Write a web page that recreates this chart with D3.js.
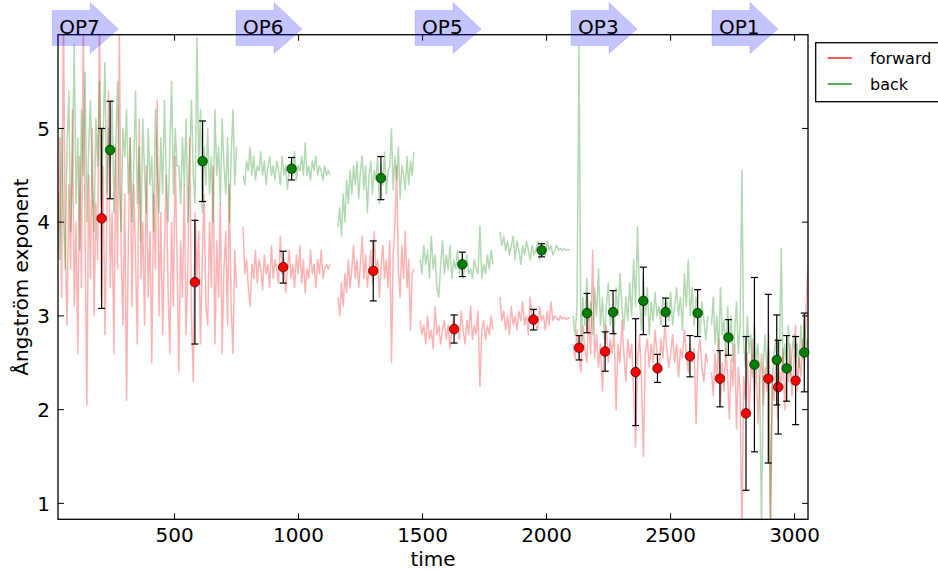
<!DOCTYPE html>
<html>
<head>
<meta charset="utf-8">
<script src="https://cdn.jsdelivr.net/npm/d3@7"></script>
<style>
  html, body { margin: 0; padding: 0; background: #fff; }
  svg { display: block; font-family: "DejaVu Sans", sans-serif; }
</style>
</head>
<body>
<svg id="chart" width="938" height="574"></svg>
<script>
// Measurement campaigns (label and start time of each arrow)
const phaseLabels = ["OP7", "OP6", "OP5", "OP3", "OP1"];
const phaseTimes = [35, 776, 1498, 2127, 2695];

// Continuous measurement blocks: start / end time of each block
const blockStarts = [30, 776, 1159, 1490, 1812, 2107, 2665];
const blockEnds   = [750, 1127, 1465, 1784, 2094, 2650, 3054];

// Forward exponent, one array per block
const forwardBlocks = [
  [3.6, 4.9, 3.2, 6.3, 3.8, 2.9, 4.4, 3.5, 5.2, 3.1,
   4.0, 2.6, 4.7, 3.3, 6.2, 3.9, 2.05, 4.5, 3.4, 5.0,
   3.0, 4.2, 3.6, 6.4, 3.2, 4.6, 2.8, 3.9, 5.4, 3.3,
   4.1, 2.6, 4.8, 3.5, 6.1, 3.7, 2.9, 4.3, 2.1, 3.8,
   4.9, 3.1, 4.4, 3.6, 2.7, 5.1, 3.4, 4.0, 2.9, 4.6,
   3.2, 3.9, 2.5, 4.3, 3.5, 5.3, 3.0, 4.1, 2.8, 3.7,
   4.5, 3.3, 2.6, 4.0, 3.1, 4.7, 3.6, 2.4, 3.8, 3.2,
   4.4, 2.8, 3.5, 4.9, 3.0, 2.3, 4.1, 3.4, 3.9, 2.7,
   3.6, 4.3, 3.1, 2.9, 4.0, 3.3, 4.6, 2.7, 3.8, 3.2,
   4.2, 2.6, 3.5, 3.9, 2.9, 4.4, 3.1, 2.6, 3.7, 3.3],
  [3.95, 3.45, 3.6, 3.3, 3.1, 3.55, 3.4, 3.7, 3.35, 3.6,
   3.5, 3.28, 3.65, 3.45, 3.55, 3.3, 3.75, 3.4, 3.6, 3.5,
   3.35, 3.85, 3.45, 3.6, 3.25, 3.5, 3.7, 3.4, 3.55, 3.3,
   3.65, 3.45, 3.75, 3.35, 3.6, 3.25, 3.5, 3.4, 3.7, 3.45,
   3.55, 3.3, 3.6, 3.45, 3.7, 3.4, 3.5, 3.55, 3.5, 3.55],
  [3.2, 3.0, 3.35, 3.1, 3.45, 3.25, 3.6, 3.3, 3.5, 3.75,
   3.4, 3.6, 3.3, 3.55, 3.85, 3.4, 3.65, 3.3, 3.5, 3.7,
   3.35, 3.9, 3.45, 3.6, 3.2, 3.55, 3.75, 3.4, 3.6, 3.3,
   3.8, 2.5, 3.65, 3.95, 4.6, 3.5, 3.2, 3.75, 3.4, 3.9,
   3.3, 3.6, 2.85, 3.45, 3.5],
  [2.95, 2.8, 2.9, 2.7, 3.0, 2.75, 2.85, 2.65, 3.1, 2.8,
   2.9, 2.7, 2.85, 2.95, 2.75, 2.9, 2.65, 2.85, 3.0, 2.8,
   2.9, 2.75, 3.05, 2.85, 2.7, 2.95, 2.8, 3.1, 2.75, 2.9,
   2.8, 3.05, 2.25, 2.85, 2.95, 2.75, 2.9, 2.8, 3.0, 2.85],
  [3.2, 2.95, 3.05, 2.85, 3.0, 2.8, 3.1, 2.9, 3.0, 2.85,
   3.05, 2.95, 3.15, 2.9, 3.0, 2.8, 3.2, 2.95, 3.05, 2.9,
   2.85, 3.1, 2.95, 3.0, 2.85, 3.05, 2.9, 3.15, 2.95, 3.0,
   2.98, 2.95, 3.0, 2.97, 2.98, 2.96, 2.98, 2.97],
  [2.7, 2.55, 2.85, 2.6, 2.4, 2.9, 2.65, 2.5, 3.0, 2.6,
   3.7, 2.55, 2.8, 2.45, 2.7, 2.2, 2.65, 2.9, 2.5, 2.75,
   2.6, 2.85, 2.0, 2.7, 2.5, 2.95, 2.6, 2.3, 2.75, 2.55,
   2.7, 2.2, 1.6, 2.5, 2.8, 2.35, 1.5, 2.6, 2.75, 2.45,
   2.7, 2.5, 2.85, 2.6, 2.4, 2.75, 2.55, 2.9, 2.65, 2.45,
   2.6, 2.8, 2.5, 2.7, 2.35, 2.65, 2.55, 2.85, 2.6, 2.4,
   2.7, 2.5, 2.65, 1.85, 2.6, 2.75, 2.45, 2.3, 2.6, 2.5],
  [2.4, 2.15, 2.6, 2.3, 2.75, 2.05, 2.5, 2.2, 2.65, 2.35,
   1.9, 2.55, 2.25, 2.7, 1.8, 2.45, 2.2, 0.6, 2.35, 2.1,
   2.6, 1.95, 2.4, 2.75, 2.15, 2.5, 1.85, 2.3, 2.6, 2.05,
   2.45, 2.2, 2.8, 0.7, 2.35, 2.1, 2.55, 1.9, 2.4, 2.25,
   2.65, 2.0, 2.5, 2.3, 2.7, 2.15, 2.45, 2.9, 2.2, 2.55,
   2.35, 2.75, 2.5, 3.1, 3.55]
];

// Backward exponent, one array per block
const backBlocks = [
  [4.3, 3.6, 5.0, 4.1, 3.5, 4.8, 5.4, 3.9, 4.6, 5.9,
   4.2, 4.9, 3.7, 5.2, 4.5, 5.6, 4.0, 4.8, 5.3, 4.4,
   3.9, 5.1, 4.6, 5.5, 4.2, 4.9, 5.7, 4.3, 5.0, 4.6,
   5.3, 4.1, 4.8, 5.5, 4.4, 3.9, 5.0, 4.7, 5.2, 4.3,
   4.9, 4.0, 4.6, 5.4, 4.2, 4.8, 3.8, 5.1, 4.5, 4.1,
   5.0, 4.4, 4.7, 3.9, 5.2, 4.6, 4.1, 4.9, 4.3, 5.3,
   4.5, 4.0, 4.8, 5.5, 4.3, 5.0, 4.6, 4.6, 4.2, 4.9,
   4.4, 5.1, 4.0, 4.7, 5.3, 4.5, 4.2, 5.97, 4.6, 5.2,
   4.1, 4.8, 4.4, 5.0, 4.3, 4.7, 4.0, 5.2, 4.5, 4.8,
   4.2, 5.1, 4.6, 4.3, 4.9, 4.0, 4.7, 5.2, 4.4, 4.8],
  [4.5, 4.4, 4.65, 4.55, 4.8, 4.5, 4.7, 4.45, 4.6, 4.55,
   4.75, 4.5, 4.65, 4.4, 4.6, 4.7, 4.5, 4.6, 4.45, 4.65,
   4.55, 4.4, 4.7, 4.5, 4.6, 4.35, 4.55, 4.65, 4.5, 4.75,
   4.45, 4.6, 4.55, 4.7, 4.5, 4.85, 4.5, 4.6, 4.45, 4.65,
   4.55, 4.7, 4.5, 4.6, 4.55, 4.45, 4.6, 4.5, 4.55, 4.5],
  [3.95, 4.15, 3.85, 4.3, 4.0, 4.45, 4.2, 4.55, 4.3, 4.6,
   4.4, 4.65, 4.25, 4.55, 4.7, 4.35, 4.6, 4.1, 4.5, 4.65,
   4.3, 4.55, 4.45, 4.7, 4.2, 4.6, 4.4, 4.75, 4.3, 4.55,
   4.6, 5.0, 4.35, 4.7, 4.45, 4.8, 4.25, 4.6, 4.5, 4.35,
   4.7, 4.4, 4.65, 4.5, 4.75],
  [3.6, 3.45, 3.75, 3.55, 3.7, 3.4, 3.85, 3.5, 3.65, 3.3,
   3.2, 3.55, 3.8, 3.45, 3.65, 3.5, 3.75, 3.4, 3.6, 3.5,
   3.7, 3.45, 3.6, 3.4, 3.55, 3.65, 3.45, 3.5, 3.4, 3.6,
   3.5, 3.45, 3.96, 3.4, 3.55, 3.45, 3.65, 3.5, 3.7, 3.55],
  [3.9, 3.75, 3.85, 3.7, 3.8, 3.65, 3.75, 3.85, 3.6, 3.8,
   3.7, 3.55, 3.75, 3.65, 3.8, 3.7, 3.6, 3.75, 3.65, 3.7,
   3.8, 3.6, 3.75, 3.7, 3.65, 3.8, 3.7, 3.75, 3.65, 3.7,
   3.75, 3.7, 3.72, 3.7, 3.72, 3.7, 3.71, 3.7],
  [3.0, 2.8, 3.1, 5.88, 2.7, 3.2, 2.9, 3.4, 2.95, 3.15,
   2.8, 3.3, 3.0, 3.5, 2.9, 3.2, 2.75, 3.1, 3.35, 2.9,
   3.05, 2.8, 3.3, 3.0, 3.45, 3.1, 2.85, 3.2, 2.95, 3.35,
   3.0, 3.6, 3.1, 3.95, 3.2, 2.85, 3.4, 3.0, 3.3, 2.8,
   3.15, 2.95, 3.25, 3.0, 3.1, 2.9, 3.2, 3.05, 3.15, 2.95,
   3.25, 2.9, 3.1, 3.3, 3.0, 3.2, 2.85, 3.45, 3.1, 3.6,
   3.0, 3.3, 2.9, 3.2, 3.05, 2.8, 3.15, 2.95, 2.75, 3.0],
  [2.9, 3.2, 2.7, 3.0, 2.6, 3.3, 2.8, 2.95, 2.55, 3.1,
   2.75, 3.0, 2.5, 2.85, 3.15, 2.6, 2.9, 4.55, 2.7, 2.45,
   3.0, 2.6, 2.8, 2.35, 2.95, 2.5, 2.7, 2.2, 0.7, 2.5,
   2.8, 2.4, 2.65, 0.75, 2.3, 2.6, 2.75, 2.2, 2.55, 3.72,
   2.4, 2.7, 2.45, 2.9, 2.35, 2.6, 2.8, 2.5, 2.7, 2.45,
   2.9, 2.55, 3.0, 2.65, 2.75]
];

// Block means with error bars
const forwardTimes  = [206, 582, 938, 1301, 1627, 1947, 2131, 2236, 2359, 2447, 2578, 2699, 2804, 2894, 2934, 3004];
const forwardMeans  = [4.04, 3.36, 3.52, 3.48, 2.86, 2.96, 2.66, 2.62, 2.40, 2.44, 2.57, 2.33, 1.96, 2.33, 2.24, 2.31];
const forwardErrors = [0.96, 0.66, 0.17, 0.32, 0.15, 0.11, 0.13, 0.21, 0.57, 0.15, 0.22, 0.30, 0.82, 0.90, 0.50, 0.47];
const backTimes  = [240, 613, 972, 1332, 1660, 1980, 2163, 2268, 2390, 2480, 2609, 2733, 2838, 2928, 2968, 3039];
const backMeans  = [4.77, 4.65, 4.57, 4.47, 3.55, 3.70, 3.03, 3.04, 3.16, 3.04, 3.03, 2.77, 2.48, 2.53, 2.44, 2.61];
const backErrors = [0.52, 0.43, 0.12, 0.23, 0.13, 0.07, 0.21, 0.23, 0.36, 0.15, 0.25, 0.19, 0.93, 0.48, 0.35, 0.42];

// Axis ticks
const xTicks = [500, 1000, 1500, 2000, 2500, 3000];
const yTicks = [1, 2, 3, 4, 5];

const plotL = 58, plotR = 808, plotT = 34.7, plotB = 519.3;
const x = d3.scaleLinear().domain([30, 3054]).range([plotL, plotR]);
const y = d3.scaleLinear().domain([0.83, 6]).range([plotB, plotT]);

const svg = d3.select("#chart");

svg.append("defs").append("clipPath").attr("id", "plotClip")
  .append("rect").attr("x", plotL).attr("y", plotT)
  .attr("width", plotR - plotL).attr("height", plotB - plotT);

// Turn a block of values into [time, value] points
function blockPoints(values, b) {
  const t0 = blockStarts[b], t1 = blockEnds[b];
  const dt = (t1 - t0) / (values.length - 1);
  return values.map((v, i) => [t0 + i * dt, v]);
}

const line = d3.line().x(d => x(d[0])).y(d => y(d[1]));
const traces = svg.append("g").attr("clip-path", "url(#plotClip)");

forwardBlocks.forEach((vals, b) => {
  traces.append("path").attr("d", line(blockPoints(vals, b)))
    .attr("fill", "none").attr("stroke", "#ff0000").attr("stroke-opacity", 0.3)
    .attr("stroke-width", 1.5).attr("stroke-linejoin", "round");
});
backBlocks.forEach((vals, b) => {
  traces.append("path").attr("d", line(blockPoints(vals, b)))
    .attr("fill", "none").attr("stroke", "#008000").attr("stroke-opacity", 0.3)
    .attr("stroke-width", 1.5).attr("stroke-linejoin", "round");
});

// Frame
svg.append("rect").attr("x", plotL).attr("y", plotT)
  .attr("width", plotR - plotL).attr("height", plotB - plotT)
  .attr("fill", "none").attr("stroke", "#000").attr("stroke-width", 1.3);

// Ticks pointing inward on all four sides
const tickLen = 6;
const tickG = svg.append("g").attr("stroke", "#000").attr("stroke-width", 1);
xTicks.forEach(t => {
  tickG.append("line").attr("x1", x(t)).attr("x2", x(t)).attr("y1", plotB).attr("y2", plotB - tickLen);
  tickG.append("line").attr("x1", x(t)).attr("x2", x(t)).attr("y1", plotT).attr("y2", plotT + tickLen);
});
yTicks.forEach(v => {
  tickG.append("line").attr("x1", plotL).attr("x2", plotL + tickLen).attr("y1", y(v)).attr("y2", y(v));
  tickG.append("line").attr("x1", plotR).attr("x2", plotR - tickLen).attr("y1", y(v)).attr("y2", y(v));
});

// Tick labels
svg.append("g").selectAll("text").data(xTicks).join("text")
  .attr("x", d => x(d)).attr("y", 542).attr("text-anchor", "middle")
  .attr("font-size", 20).attr("fill", "#000").text(d => d);
svg.append("g").selectAll("text").data(yTicks).join("text")
  .attr("x", 50).attr("y", d => y(d)).attr("dy", "0.36em").attr("text-anchor", "end")
  .attr("font-size", 20).attr("fill", "#000").text(d => d);

// Axis titles
svg.append("text").attr("x", (plotL + plotR) / 2).attr("y", 566)
  .attr("text-anchor", "middle").attr("font-size", 20).text("time");
svg.append("text").attr("transform", `translate(28,${(plotT + plotB) / 2}) rotate(-90)`)
  .attr("text-anchor", "middle").attr("font-size", 20).text("Ångström exponent");

// Error bars and mean markers
function drawMeans(times, means, errs, fill) {
  const g = svg.append("g");
  times.forEach((t, i) => {
    const cx = x(t), lo = y(means[i] - errs[i]), hi = y(means[i] + errs[i]);
    g.append("line").attr("x1", cx).attr("x2", cx).attr("y1", lo).attr("y2", hi)
      .attr("stroke", "#000").attr("stroke-width", 1.2);
    [lo, hi].forEach(yy => g.append("line").attr("x1", cx - 3.5).attr("x2", cx + 3.5)
      .attr("y1", yy).attr("y2", yy).attr("stroke", "#000").attr("stroke-width", 1.2));
  });
  g.selectAll("circle").data(times).join("circle")
    .attr("cx", d => x(d)).attr("cy", (d, i) => y(means[i])).attr("r", 4.8)
    .attr("fill", fill).attr("stroke", "#000").attr("stroke-width", 0.6);
}
drawMeans(forwardTimes, forwardMeans, forwardErrors, "#ff0000");
drawMeans(backTimes, backMeans, backErrors, "#008000");

// Campaign arrows along the top
const arrowG = svg.append("g");
phaseTimes.forEach((t, i) => {
  const x0 = x(t) - 7, cy = 28;
  const w = 66, head = 28, bh = 17.5, hh = 25.5;
  const pts = [
    [x0, cy - bh], [x0 + w - head, cy - bh], [x0 + w - head, cy - hh], [x0 + w, cy + 1],
    [x0 + w - head, cy + hh], [x0 + w - head, cy + bh], [x0, cy + bh]
  ];
  arrowG.append("path").attr("d", "M" + pts.map(p => p.join(",")).join("L") + "Z")
    .attr("fill", "rgba(0,0,255,0.23)").attr("stroke", "rgba(0,0,255,0.12)").attr("stroke-width", 1);
  arrowG.append("text").attr("x", x(t)).attr("y", 34).attr("font-size", 20)
    .attr("fill", "#000").text(phaseLabels[i]);
});

// Legend
const lg = svg.append("g");
lg.append("rect").attr("x", 815.7).attr("y", 42.7).attr("width", 140).attr("height", 59)
  .attr("fill", "#fff").attr("stroke", "#000").attr("stroke-width", 1.3);
[["forward", "#ff0000", 58], ["back", "#008000", 84]].forEach(([name, col, ly]) => {
  lg.append("line").attr("x1", 827.7).attr("x2", 851.7).attr("y1", ly).attr("y2", ly)
    .attr("stroke", col).attr("stroke-width", 1.3);
  lg.append("text").attr("x", 870).attr("y", ly).attr("dy", "0.36em")
    .attr("font-size", 16).attr("fill", "#000").text(name);
});
</script>
</body>
</html>
